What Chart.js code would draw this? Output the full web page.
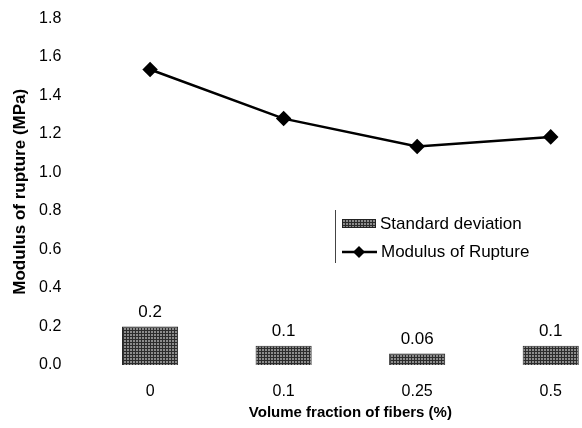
<!DOCTYPE html>
<html>
<head>
<meta charset="utf-8">
<script src="https://cdn.jsdelivr.net/npm/chart.js@4/dist/chart.umd.min.js"></script>
<style>
body { margin:0; background:#fff; overflow:hidden; }
#wrap { width:582px; height:428px; overflow:hidden; }
canvas { display:block; }
</style>
</head>
<body>
<div id="wrap"><canvas id="myChart" width="626" height="428"></canvas></div>
<script>
var fractions = ["0", "0.1", "0.25", "0.5"]
var rupture = [1.535, 1.28, 1.135, 1.185]
var stdDev = [0.2, 0.1, 0.06, 0.1]
var stdLabels = ["0.2", "0.1", "0.06", "0.1"]

var fontFamily = "'Liberation Sans', Arial, sans-serif"

var canvas = document.getElementById("myChart")
var ctx = canvas.getContext('2d')

// small dotted tile for the bars
var tile = document.createElement('canvas')
tile.width = 3
tile.height = 3
var tc = tile.getContext('2d')
tc.fillStyle = '#8c8c8c'
tc.fillRect(0, 0, 3, 3)
tc.fillStyle = '#2c2c2c'
tc.fillRect(0, 0, 3, 1)
tc.fillRect(0, 0, 1, 3)
var hatch = ctx.createPattern(tile, 'repeat')

// value above each bar
var barLabels = {
	id: 'barLabels',
	afterDatasetsDraw: function(chart){
		var c = chart.ctx
		var meta = chart.getDatasetMeta(0)
		c.save()
		c.font = "17px " + fontFamily
		c.fillStyle = "#000"
		c.textAlign = "center"
		c.textBaseline = "bottom"
		meta.data.forEach(function(bar, i){
			c.fillText(stdLabels[i], bar.x, bar.y - 6)
		})
		c.restore()
	}
}

// legend box sitting inside the plot
var boxLegend = {
	id: 'boxLegend',
	afterDraw: function(chart){
		var c = chart.ctx
		c.save()
		c.strokeStyle = "#444"
		c.lineWidth = 1
		c.beginPath()
		c.moveTo(335.5, 210)
		c.lineTo(335.5, 263)
		c.stroke()

		c.fillStyle = hatch
		c.fillRect(342, 219, 34, 9)
		c.strokeStyle = "#222"
		c.strokeRect(342.5, 219.5, 33, 8)

		c.strokeStyle = "#000"
		c.lineWidth = 2.5
		c.beginPath()
		c.moveTo(342, 252)
		c.lineTo(377, 252)
		c.stroke()
		c.fillStyle = "#000"
		c.beginPath()
		c.moveTo(359, 246)
		c.lineTo(365, 252)
		c.lineTo(359, 258)
		c.lineTo(353, 252)
		c.closePath()
		c.fill()

		c.font = "17px " + fontFamily
		c.textAlign = "left"
		c.textBaseline = "middle"
		c.fillText("Standard deviation", 380, 224)
		c.fillText("Modulus of Rupture", 381, 252)
		c.restore()
	}
}

var chart = new Chart(ctx, {
	type: 'bar',
	data: {
		labels: fractions,
		datasets: [
			{
				label: "Standard deviation",
				data: stdDev,
				backgroundColor: hatch,
				borderColor: "#222",
				borderWidth: 1,
				barPercentage: 0.42,
				categoryPercentage: 1,
				order: 2
			},
			{
				type: 'line',
				label: "Modulus of Rupture",
				data: rupture,
				borderColor: "#000",
				borderWidth: 2.5,
				pointStyle: 'rectRot',
				pointRadius: 6,
				pointBackgroundColor: "#000",
				pointBorderColor: "#000",
				tension: 0,
				order: 1
			}
		]
	},
	options: {
		responsive: false,
		animation: false,
		layout: { padding: { top: 18.5, left: 0, right: 0, bottom: 0 } },
		plugins: {
			legend: { display: false },
			tooltip: { enabled: false }
		},
		scales: {
			x: {
				offset: true,
				grid: { display: false },
				border: { display: false },
				ticks: {
					color: "#000",
					font: { family: fontFamily, size: 16 },
					padding: 9
				},
				title: {
					display: true,
					text: "Volume fraction of fibers (%)",
					color: "#000",
					font: { family: fontFamily, size: 15, weight: 'bold' },
					padding: { top: 0, bottom: 6 }
				},
				afterFit: function(scale){ scale.height = 63 }
			},
			y: {
				min: 0,
				max: 1.8,
				grid: { display: false },
				border: { display: false },
				ticks: {
					stepSize: 0.2,
					color: "#000",
					font: { family: fontFamily, size: 16 },
					padding: 14,
					callback: function(v){ return v.toFixed(1) }
				},
				title: {
					display: true,
					text: "Modulus of rupture (MPa)",
					color: "#000",
					font: { family: fontFamily, size: 17, weight: 'bold' },
					padding: { top: 10, bottom: 0 }
				},
				afterFit: function(scale){
					scale.width = 83.3
					scale.paddingTop = 0
					scale.paddingBottom = 0
				}
			}
		}
	},
	plugins: [barLabels, boxLegend]
})
</script>
</body>
</html>
